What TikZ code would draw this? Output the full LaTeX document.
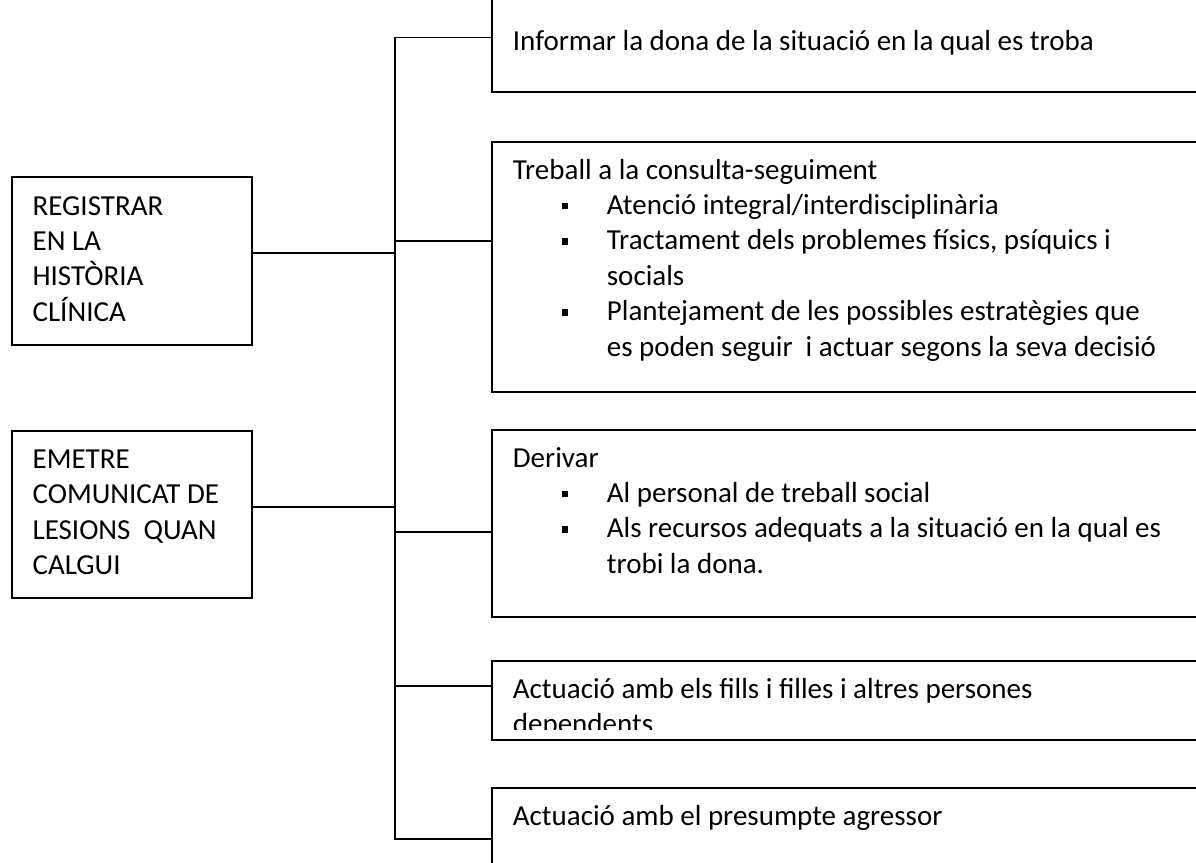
\documentclass[tikz,border=0pt]{standalone}
\usepackage{fontspec}
\setmainfont{Carlito}
\newcommand{\sq}{\hspace*{49pt}\rule[5pt]{6.5pt}{6.5pt}\hspace*{38.5pt}}
\newcommand{\ind}{\hspace*{94pt}}
\begin{document}
\begin{tikzpicture}[
x=1pt, y=-1pt,
line width=1.8pt,
box/.style={draw, rectangle, inner sep=0pt, anchor=north west},
txt/.style={inner sep=0pt, anchor=base west, align=flush left, text width=#1,
  font=\fontsize{29pt}{35.4pt}\selectfont},
txt/.default=680pt
]
\useasboundingbox (0,0) rectangle (1196,862);
\fill[white] (0,0) rectangle (1196,862);
\clip (0,0) rectangle (1196,862);

\node[box, minimum width=240pt, minimum height=168pt] (reg) at (10.7,176) {};
\node[txt=230pt] (regt) at ([shift={(21,39)}]reg.north west)
  {REGISTRAR\\EN LA\\HISTÒRIA\\CLÍNICA};
\node[box, minimum width=240pt, minimum height=167.3pt] (eme) at (10.7,430) {};
\node[txt=230pt] (emet) at ([shift={(21,38.3)}]eme.north west)
  {EMETRE\\COMUNICAT DE\\LESIONS\ \ QUAN\\CALGUI};

\node[box, minimum width=720pt, minimum height=111pt] (inf) at (490.7,-20) {};
\node[txt] (inft) at ([shift={(21.3,70)}]inf.north west)
  {Informar la dona de la situació en la qual es troba};

\node[box, minimum width=720pt, minimum height=250.3pt] (trt) at (490.7,140.7) {};
\node[txt] (trtt) at ([shift={(21.3,38.3)}]trt.north west)
  {Treball a la consulta-seguiment\\
   \sq Atenció integral/interdisciplinària\\
   \sq Tractament dels problemes físics, psíquics i\\
   \ind socials\\
   \sq Plantejament de les possibles estratègies que\\
   \ind es poden seguir\ \ i actuar segons la seva decisió};

\node[box, minimum width=720pt, minimum height=186.7pt] (der) at (490.7,429.3) {};
\node[txt] (dert) at ([shift={(21.3,37.7)}]der.north west)
  {Derivar\\
   \sq Al personal de treball social\\
   \sq Als recursos adequats a la situació en la qual es\\
   \ind trobi la dona.};

\node[box, minimum width=720pt, minimum height=79.3pt] (act) at (490.7,660) {};
\begin{scope}
\clip (act.north west) rectangle ([shift={(0,-12)}]act.south east);
\node[txt] (actt) at ([shift={(21.3,38)}]act.north west)
  {Actuació amb els fills i filles i altres persones\\dependents};
\end{scope}

\node[box, minimum width=720pt, minimum height=100pt] (agr) at (490.7,786.7) {};
\node[txt] (agrt) at ([shift={(21.3,38.3)}]agr.north west)
  {Actuació amb el presumpte agressor};

\coordinate (b1) at (395,37.5);
\coordinate (b2) at (395,240.7);
\coordinate (b3) at (395,532.3);
\coordinate (b4) at (395,685.7);
\coordinate (b5) at (395,839);
\coordinate (j1) at (395,252.7);
\coordinate (j2) at (395,506.7);

\draw (b1 -| inf.west) -- (b1) -- (b5) -- (b5 -| agr.west);
\foreach \b/\n in {b2/trt,b3/der,b4/act}
  \draw (\b) -- (\b -| \n.west);
\draw (j1 -| reg.east) -- (j1);
\draw (j2 -| eme.east) -- (j2);

\end{tikzpicture}
\end{document}
